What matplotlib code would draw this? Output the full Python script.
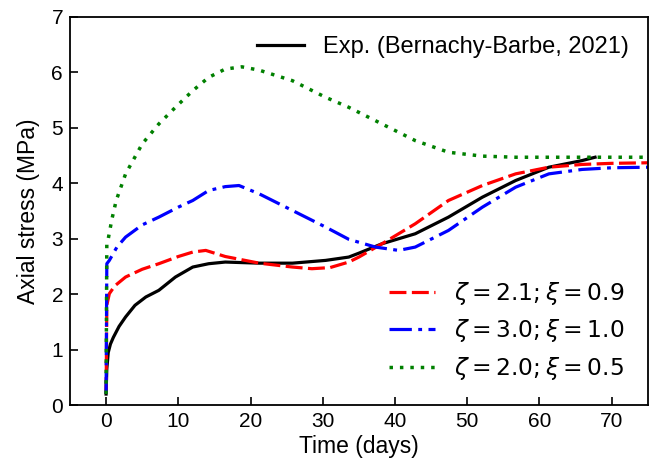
import numpy as np
import matplotlib.pyplot as plt

plt.rcParams['font.family'] = ['Liberation Sans', 'DejaVu Sans']
plt.rcParams['mathtext.fontset'] = 'dejavusans'

# experimental curve (Bernachy-Barbe, 2021)
t_exp = [0, 0.1, 0.3, 0.6, 1.0, 1.8, 2.7, 4.0, 5.5, 7.3, 9.6, 12.0, 14.2, 16.5, 21.2,
         25.8, 30.4, 33.6, 35.0, 38.2, 42.8, 47.4, 52.1, 56.7, 61.3, 65.9, 67.7]
s_exp = [0.2, 0.65, 0.95, 1.1, 1.22, 1.42, 1.59, 1.8, 1.95, 2.07, 2.31, 2.49, 2.55, 2.58, 2.56,
         2.56, 2.61, 2.67, 2.74, 2.91, 3.09, 3.39, 3.75, 4.05, 4.29, 4.41, 4.47]

# model: zeta = 2.1, xi = 0.9
t_m1 = [0, 0.1, 0.45, 1.2, 2.7, 5.0, 7.3, 10.0, 12.0, 13.8, 16.5, 21.2, 25.8, 28.5, 31.0,
        33.6, 35.0, 38.2, 42.8, 47.4, 52.1, 56.7, 61.3, 65.9, 70.0, 75.0]
s_m1 = [0.2, 1.8, 2.01, 2.15, 2.31, 2.45, 2.55, 2.68, 2.76, 2.79, 2.68, 2.56, 2.49, 2.46, 2.48,
        2.58, 2.67, 2.91, 3.27, 3.69, 3.96, 4.17, 4.29, 4.34, 4.36, 4.37]

# model: zeta = 3.0, xi = 1.0
t_m2 = [0, 0.1, 0.45, 1.5, 2.7, 5.0, 7.3, 10.0, 12.0, 14.2, 16.5, 18.4, 21.2, 25.8, 30.4,
        33.6, 37.3, 40.5, 42.8, 47.4, 52.1, 56.7, 61.3, 65.9, 70.0, 75.0]
s_m2 = [0.2, 2.55, 2.61, 2.85, 3.03, 3.25, 3.39, 3.57, 3.69, 3.87, 3.94, 3.96, 3.81, 3.51, 3.21,
        2.99, 2.85, 2.79, 2.85, 3.15, 3.57, 3.93, 4.17, 4.25, 4.28, 4.29]

# model: zeta = 2.0, xi = 0.5
t_m3 = [0, 0.1, 0.3, 0.8, 1.4, 2.7, 5.0, 7.3, 9.6, 12.0, 14.2, 16.5, 18.8, 21.2, 25.8,
        30.4, 33.6, 38.2, 42.8, 47.4, 52.1, 56.7, 65.0, 75.0]
s_m3 = [0.2, 2.9, 3.0, 3.35, 3.69, 4.17, 4.71, 5.07, 5.37, 5.67, 5.91, 6.06, 6.1, 6.04, 5.85,
        5.55, 5.37, 5.07, 4.77, 4.56, 4.49, 4.47, 4.47, 4.47]

fig, ax = plt.subplots(figsize=(6.57, 4.70), dpi=100)
fig.subplots_adjust(left=0.1065, right=0.986, bottom=0.138, top=0.964)

l_exp, = ax.plot(t_exp, s_exp, color='black', lw=2.3, label='Exp. (Bernachy-Barbe, 2021)')
l1, = ax.plot(t_m1, s_m1, color='red', lw=2.3, ls=(0, (5.3, 1.7)), label=r'$\zeta = 2.1; \xi = 0.9$')
l2, = ax.plot(t_m2, s_m2, color='blue', lw=2.3, ls=(0, (7, 2, 1.2, 2)), label=r'$\zeta = 3.0; \xi = 1.0$')
l3, = ax.plot(t_m3, s_m3, color='green', lw=2.5, ls=(0, (1, 2.0)), label=r'$\zeta = 2.0; \xi = 0.5$')

ax.set_xlim(-5, 75)
ax.set_ylim(0, 7)
ax.set_xticks(np.arange(0, 71, 10))
ax.set_yticks(np.arange(0, 8, 1))
ax.tick_params(direction='in', length=6, width=1.2, labelsize=15, pad=5)
for s in ax.spines.values():
    s.set_linewidth(1.3)

ax.set_xlabel('Time (days)', fontsize=16.5, labelpad=3)
ax.set_ylabel('Axial stress (MPa)', fontsize=16.5, labelpad=8)

leg1 = ax.legend(handles=[l_exp], loc='upper right', frameon=False, fontsize=17,
                 handlelength=2.0, borderaxespad=0.4)
ax.add_artist(leg1)
ax.legend(handles=[l1, l2, l3], loc='lower right', frameon=False, fontsize=16.8,
          handlelength=2.0, borderaxespad=0.6, labelspacing=0.45)

plt.savefig('out.png', dpi=100)
